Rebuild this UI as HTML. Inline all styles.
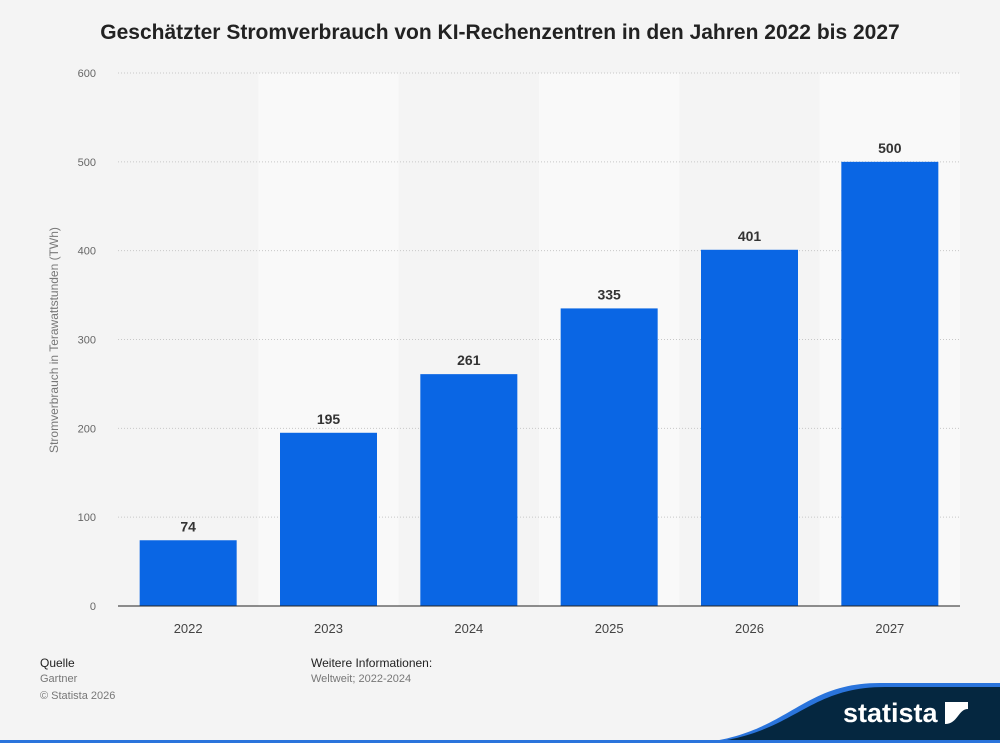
<!DOCTYPE html>
<html><head><meta charset="utf-8"><style>
body{margin:0;width:1000px;height:743px;background:#f4f4f4;font-family:"Liberation Sans",Arial,sans-serif;overflow:hidden;position:relative}
.t{position:absolute;white-space:nowrap}
</style></head><body>
<div class="t" style="left:0;width:1000px;text-align:center;top:21px;font-size:21px;font-weight:bold;color:#222">Geschätzter Stromverbrauch von KI-Rechenzentren in den Jahren 2022 bis 2027</div>
<svg id="chart" width="1000" height="743" style="position:absolute;left:0;top:0"></svg>
<div class="t" style="left:40px;top:656px;font-size:12px;color:#222">Quelle</div>
<div class="t" style="left:40px;top:673px;font-size:11px;color:#777">Gartner</div>
<div class="t" style="left:40px;top:690px;font-size:11px;color:#777">© Statista 2026</div>
<div class="t" style="left:311px;top:656px;font-size:12px;color:#222">Weitere Informationen:</div>
<div class="t" style="left:311px;top:673px;font-size:11px;color:#777">Weltweit; 2022-2024</div>
<svg width="1000" height="743" style="position:absolute;left:0;top:0">
<path d="M700,743 C790,733 800,683 880,683 L1000,683 L1000,743 Z" fill="#2a74dc"/>
<path d="M705,743 C795,735 805,687 885,687 L1000,687 L1000,743 Z" fill="#052740"/>
<rect x="0" y="740" width="1000" height="3" fill="#2a74dc"/>
<text x="843" y="722" font-size="27" font-weight="bold" fill="#fff" font-family="Liberation Sans,sans-serif">statista</text>
<path d="M945,702 L968,702 L968,709 C958,709 958,724 945,724 Z" fill="#fff"/>
</svg>
<script>
const categories=["2022","2023","2024","2025","2026","2027"];
const values=[74,195,261,335,401,500];
const yTicks=[0,100,200,300,400,500,600];
const NS="http://www.w3.org/2000/svg";
const svg=document.getElementById('chart');
const x0=118,x1=960,yBase=606,yTop=73,yMax=600;
const colW=(x1-x0)/categories.length;
const y=v=>yBase-(v/yMax)*(yBase-yTop);
const xc=i=>x0+colW*(i+0.5);
function mk(t,a){const e=document.createElementNS(NS,t);for(const k in a)e.setAttribute(k,a[k]);svg.appendChild(e);return e;}
categories.forEach((c,i)=>{if(i%2==1){const b=mk('rect',{x:x0+colW*i,y:yTop,width:colW,height:yBase-yTop,fill:'#f9f9f9'});

}});
yTicks.forEach(v=>{if(v>0){const g=mk('line',{x1:x0,x2:x1,y1:y(v),y2:y(v),stroke:'#c8c8c8','stroke-dasharray':'1,2'});

}
const t=mk('text',{x:96,y:y(v)+4,'text-anchor':'end','font-size':11,fill:'#666'});t.textContent=v;

});
categories.forEach((c,i)=>{
const b=mk('rect',{x:xc(i)-48.5,y:y(values[i]),width:97,height:yBase-y(values[i]),fill:'#0a66e4'});


const l=mk('text',{x:xc(i),y:y(values[i])-9,'text-anchor':'middle','font-size':14,'font-weight':'bold',fill:'#333'});l.textContent=values[i];


const xl=mk('text',{x:xc(i),y:yBase+27,'text-anchor':'middle','font-size':13,fill:'#444'});xl.textContent=c;

});
const ax=mk('line',{x1:x0,x2:x1,y1:yBase,y2:yBase,stroke:'#222','stroke-width':1});


const yt=mk('text',{x:0,y:0,transform:'translate(58,340) rotate(-90)','text-anchor':'middle','font-size':12,fill:'#777'});yt.textContent='Stromverbrauch in Terawattstunden (TWh)';


</script>
</body></html>
